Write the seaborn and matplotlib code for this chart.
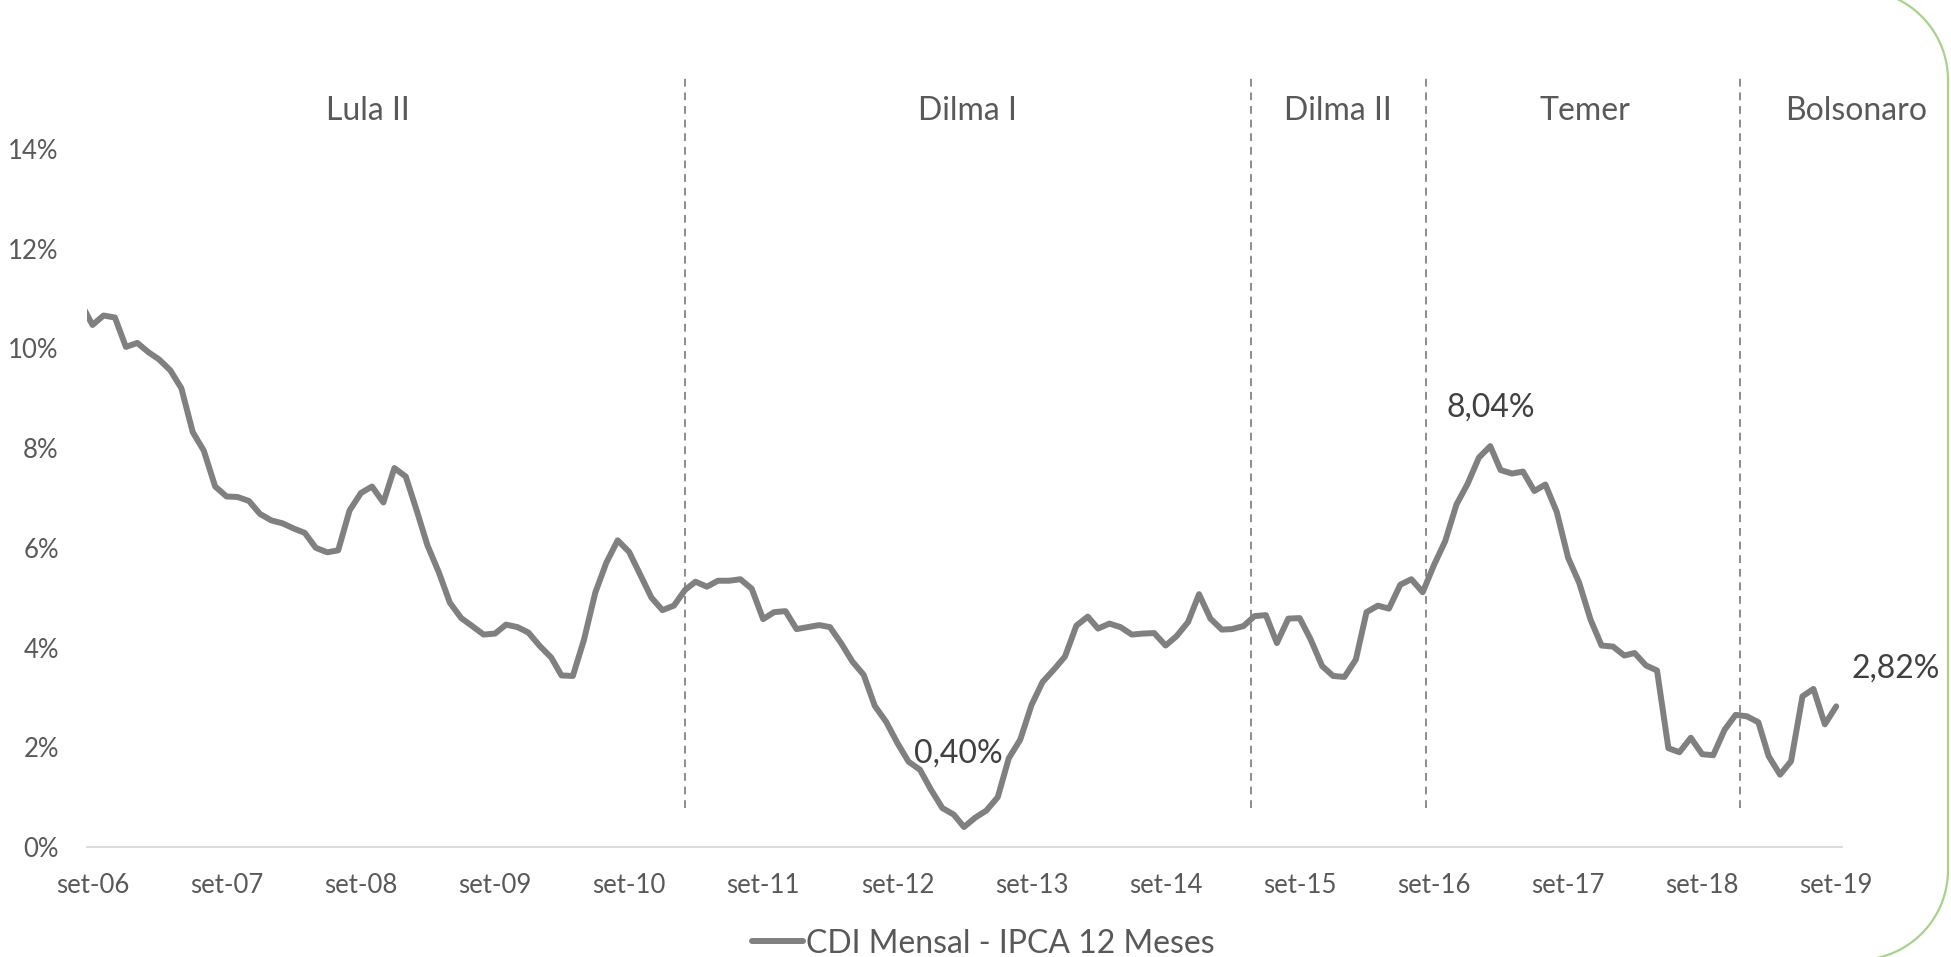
import numpy as np
import pandas as pd
import seaborn as sns
import matplotlib.pyplot as plt
from matplotlib.lines import Line2D

# CDI mensal - IPCA 12 meses (%), ago-06 ate set-19
months = pd.date_range('2006-08-01', '2019-09-01', freq='MS')
spread = [
    10.90, 10.47, 10.66, 10.62, 10.03, 10.11, 9.92, 9.78, 9.56, 9.20, 8.32, 7.95,
    7.23, 7.03, 7.02, 6.94, 6.68, 6.55, 6.49, 6.39, 6.30, 6.00, 5.91, 5.95,
    6.75, 7.10, 7.23, 6.91, 7.60, 7.43, 6.72, 6.05, 5.51, 4.90, 4.59, 4.43,
    4.26, 4.28, 4.46, 4.41, 4.30, 4.03, 3.80, 3.44, 3.43, 4.15, 5.10, 5.70,
    6.15, 5.92, 5.47, 5.00, 4.75, 4.84, 5.16, 5.32, 5.22, 5.34, 5.34, 5.37,
    5.18, 4.57, 4.71, 4.73, 4.37, 4.41, 4.45, 4.41, 4.08, 3.72, 3.45, 2.83,
    2.51, 2.08, 1.71, 1.55, 1.15, 0.78, 0.65, 0.40, 0.59, 0.73, 1.00, 1.78,
    2.15, 2.85, 3.31, 3.56, 3.82, 4.44, 4.62, 4.38, 4.48, 4.41, 4.26, 4.28,
    4.29, 4.04, 4.23, 4.51, 5.07, 4.58, 4.36, 4.37, 4.43, 4.63, 4.65, 4.09,
    4.58, 4.59, 4.16, 3.63, 3.43, 3.41, 3.76, 4.71, 4.84, 4.78, 5.26, 5.37,
    5.11, 5.66, 6.13, 6.87, 7.28, 7.81, 8.04, 7.56, 7.49, 7.53, 7.14, 7.27,
    6.72, 5.80, 5.30, 4.56, 4.04, 4.02, 3.84, 3.89, 3.64, 3.54, 1.98, 1.90,
    2.19, 1.86, 1.84, 2.35, 2.65, 2.62, 2.50, 1.82, 1.45, 1.72, 3.02, 3.17,
    2.46, 2.82,
]
serie = 'CDI Mensal - IPCA 12 Meses'

tick_dates = pd.date_range('2006-09-01', '2019-09-01', freq='12MS')
tick_labels = ['set-06', 'set-07', 'set-08', 'set-09', 'set-10', 'set-11', 'set-12',
               'set-13', 'set-14', 'set-15', 'set-16', 'set-17', 'set-18', 'set-19']
y_ticks = [0, 2, 4, 6, 8, 10, 12, 14]

# Governos: nome, centro do rotulo e data da troca (linha tracejada)
govs = ['Lula II', 'Dilma I', 'Dilma II', 'Temer', 'Bolsonaro']
gov_label_dates = pd.to_datetime(['2008-09-19', '2013-03-10', '2015-12-13',
                                  '2017-10-16', '2019-10-24'])
gov_breaks = pd.to_datetime(['2011-02-01', '2015-04-22', '2016-08-10', '2018-12-13'])

df = pd.DataFrame({'mes': months, 'valor': spread})

sns.set_theme(style='white')
plt.rcParams['font.family'] = ['Lato', 'DejaVu Sans']

fig, ax = plt.subplots(figsize=(19.51, 9.57), dpi=100)
fig.subplots_adjust(left=0.0444, right=0.944, bottom=0.115, top=0.8443)

sns.lineplot(data=df, x='mes', y='valor', ax=ax, color='#808080',
             linewidth=4.3, label=serie)

ax.set_xlim(pd.Timestamp('2006-08-16'), pd.Timestamp('2019-09-16'))
ax.set_ylim(0, 14)
ax.set_xticks(tick_dates)
ax.set_xticklabels(tick_labels)
ax.set_yticks(y_ticks)
ax.set_yticklabels(['{}%'.format(v) for v in y_ticks])
ax.set_xlabel('')
ax.set_ylabel('')
ax.tick_params(axis='both', length=0, labelsize=18.5, colors='#595959')
ax.tick_params(axis='y', pad=20)
ax.tick_params(axis='x', pad=19)

for s in ['top', 'right', 'left']:
    ax.spines[s].set_visible(False)
ax.spines['bottom'].set_color('#d9d9d9')
ax.spines['bottom'].set_linewidth(1.3)

# linhas tracejadas entre governos (passam do topo do eixo)
for d in gov_breaks:
    ax.axvline(d, ymin=0.78 / 14, ymax=15.47 / 14, color='#8c8c8c',
               linewidth=1.4, dashes=(4, 3), clip_on=False, zorder=1)

for name, d in zip(govs, gov_label_dates):
    ax.text(d, 14.77, name, ha='center', va='center', fontsize=23,
            color='#595959', clip_on=False)

# rotulos de dados: pico no governo Temer, minimo e ultimo ponto
vals = df['valor']
i_max = vals[df['mes'] >= gov_breaks[2]].idxmax()
i_min = vals.idxmin()
i_last = len(vals) - 1
label_offsets = [(i_max, (0, 27.5)), (i_min, (-4, 53)), (i_last, (43, 27.5))]
for i, off in label_offsets:
    txt = '{:.2f}%'.format(vals[i]).replace('.', ',')
    ax.annotate(txt, xy=(df['mes'][i], vals[i]), xytext=off,
                textcoords='offset points', ha='center', va='center',
                fontsize=23, color='#404040', annotation_clip=False)

leg = ax.legend(loc='center', bbox_to_anchor=(0.504, 0.014),
                bbox_transform=fig.transFigure, frameon=False, fontsize=23,
                handlelength=1.6, handletextpad=0.1, labelcolor='#595959')

# moldura verde arredondada: so o lado direito aparece na imagem
r = 90
right = 1948
top_arc = np.linspace(np.pi / 2, 0, 30)
bot_arc = np.linspace(0, -np.pi / 2, 30)
bx = np.concatenate([[right - r - 300], right - r + r * np.cos(top_arc),
                     right - r + r * np.cos(bot_arc), [right - r - 300]])
by = np.concatenate([[967], 877 + r * np.sin(top_arc),
                     87 + r * np.sin(bot_arc), [-3]])
fig.add_artist(Line2D(bx, by, transform=None, color='#a9d18e', linewidth=1.6))

fig.savefig('out.png', dpi=100)
